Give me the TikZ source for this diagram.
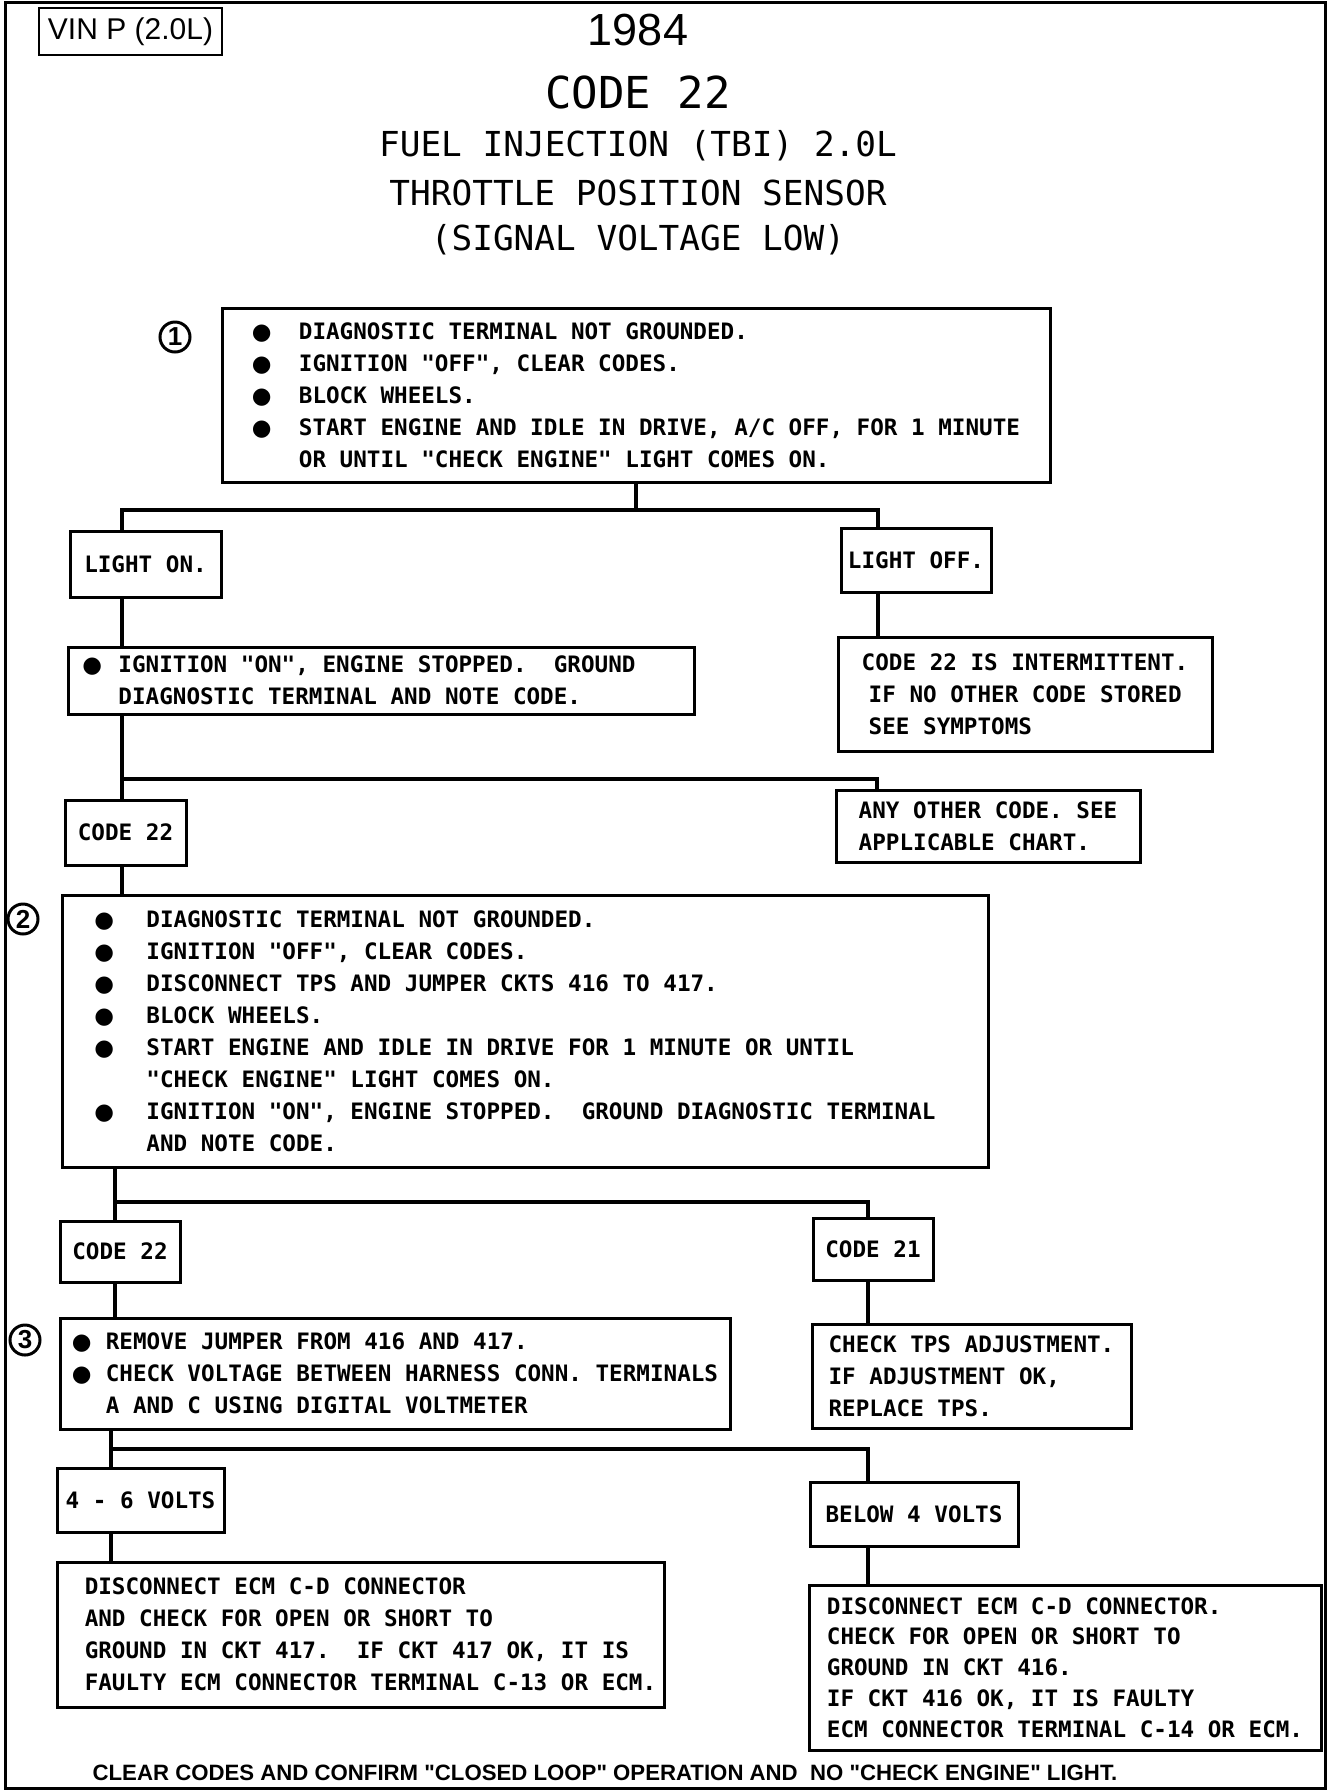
\documentclass[tikz,border=0pt]{standalone}
\usepackage{fontspec}
\setmainfont{Liberation Sans}
\newfontfamily\plotfont{DejaVu Sans Mono}
\newfontfamily\notefont{Liberation Sans}
\newfontfamily\symfont{DejaVu Sans}
\usetikzlibrary{positioning}
\frenchspacing
\newcommand{\bul}[1]{\makebox[#1][l]{\symfont ●}}
\newcommand{\ind}[1]{\hspace*{#1}}
\newcommand{\pad}[1]{\makebox[#1]{}}
\tikzset{%
	% Specifications for style of nodes:
	base/.style = {rectangle, draw=black, line width=1.5pt, inner sep=0pt,
		align=left, font={\plotfont\bfseries\fontsize{11.3}{16}\selectfont}},
	choice/.style = {base, align=center},
	title/.style = {font={\plotfont\fontsize{17.2}{20}\selectfont}},
	stepmark/.style = {circle, draw=black, line width=1.5pt, minimum size=15pt,
		inner sep=0pt, font={\notefont\bfseries\fontsize{13}{13}\selectfont}},
	link/.style = {line width=1.7pt},
}
\begin{document}
\begin{tikzpicture}[x=0.5pt, y=-0.5pt]
\useasboundingbox (0,0) rectangle (1328,1790);
\draw[line width=1.5pt] (5,2) rectangle (1325,1788);

% heading
\node (vin) [draw, line width=0.9pt, minimum width=91.5pt, minimum height=23.5pt, inner sep=0pt,
	font={\fontsize{15}{15}\selectfont}] at (130.5,31.5) {VIN P (2.0L)};
\node (year) [font={\fontsize{22.5}{24}\selectfont}] at (638,30) {1984};
\node (code) [font={\plotfont\fontsize{22}{24}\selectfont}] at (638,92) {CODE 22};
\node (system) [title] at (638,146) {FUEL INJECTION (TBI) 2.0L};
\node (sensor) [title] at (638,193) {THROTTLE POSITION SENSOR};
\node (fault) [title] at (638,240) {(SIGNAL VOLTAGE LOW)};

% step 1
\node (mark1) [stepmark] at (175,337) {1};
\node (check1) [base, minimum width=414pt, minimum height=87pt] at (636,395)
	{\bul{23.5pt}DIAGNOSTIC TERMINAL NOT GROUNDED.\\
	\bul{23.5pt}IGNITION "OFF", CLEAR CODES.\\
	\bul{23.5pt}BLOCK WHEELS.\\
	\bul{23.5pt}START ENGINE AND IDLE IN DRIVE, A/C OFF, FOR 1 MINUTE\\
	\ind{23.5pt}OR UNTIL "CHECK ENGINE" LIGHT COMES ON.};
\node (lighton) [choice, minimum width=75.5pt, minimum height=33pt] at (145.5,564) {LIGHT ON.};
\node (lightoff) [choice, minimum width=75pt, minimum height=32pt] at (916,560) {LIGHT OFF.};
\node (ignon) [base, minimum width=313pt, minimum height=33.5pt] at (381,680.5)
	{\bul{18pt}IGNITION "ON", ENGINE STOPPED.~~GROUND\pad{22pt}\\
	\ind{18pt}DIAGNOSTIC TERMINAL AND NOTE CODE.};
\node (intermit) [base, minimum width=187pt, minimum height=57pt] at (1025,694)
	{CODE 22 IS INTERMITTENT.\\
	\ind{3.5pt}IF NO OTHER CODE STORED\\
	\ind{3.5pt}SEE SYMPTOMS};
\node (code22a) [choice, minimum width=60.5pt, minimum height=32.5pt] at (125.5,832.5) {CODE 22};
\node (anyother) [base, minimum width=152pt, minimum height=36pt] at (988,826)
	{ANY OTHER CODE. SEE\\
	APPLICABLE CHART.};

% step 2
\node (mark2) [stepmark] at (23,919) {2};
\node (check2) [base, minimum width=463pt, minimum height=136pt] at (525,1031)
	{\bul{26pt}DIAGNOSTIC TERMINAL NOT GROUNDED.\\
	\bul{26pt}IGNITION "OFF", CLEAR CODES.\\
	\bul{26pt}DISCONNECT TPS AND JUMPER CKTS 416 TO 417.\\
	\bul{26pt}BLOCK WHEELS.\\
	\bul{26pt}START ENGINE AND IDLE IN DRIVE FOR 1 MINUTE OR UNTIL\\
	\ind{26pt}"CHECK ENGINE" LIGHT COMES ON.\\
	\bul{26pt}IGNITION "ON", ENGINE STOPPED.~~GROUND DIAGNOSTIC TERMINAL\pad{10pt}\\
	\ind{26pt}AND NOTE CODE.};
\node (code22b) [choice, minimum width=60pt, minimum height=30.5pt] at (120,1251.5) {CODE 22};
\node (code21) [choice, minimum width=60pt, minimum height=31pt] at (873,1249) {CODE 21};

% step 3
\node (mark3) [stepmark] at (25,1340) {3};
\node (check3) [base, minimum width=335pt, minimum height=55.5pt] at (395,1373.5)
	{\bul{17pt}REMOVE JUMPER FROM 416 AND 417.\\
	\bul{17pt}CHECK VOLTAGE BETWEEN HARNESS CONN. TERMINALS\\
	\ind{17pt}A AND C USING DIGITAL VOLTMETER};
\node (checktps) [base, minimum width=159.5pt, minimum height=52pt] at (971.5,1376)
	{CHECK TPS ADJUSTMENT.\\
	IF ADJUSTMENT OK,\\
	REPLACE TPS.};
\node (volts46) [choice, minimum width=83.5pt, minimum height=32pt] at (140.5,1500) {4 - 6 VOLTS};
\node (below4) [choice, minimum width=104pt, minimum height=32pt] at (914,1514) {BELOW 4 VOLTS};
\node (discL) [base, minimum width=303.5pt, minimum height=72.5pt] at (360.5,1634.5)
	{\ind{10pt}DISCONNECT ECM C-D CONNECTOR\\
	\ind{10pt}AND CHECK FOR OPEN OR SHORT TO\\
	\ind{10pt}GROUND IN CKT 417.~~IF CKT 417 OK, IT IS\\
	\ind{10pt}FAULTY ECM CONNECTOR TERMINAL C-13 OR ECM.};
\node (discR) [base, minimum width=256pt, minimum height=82.5pt,
	font={\plotfont\bfseries\fontsize{11.3}{15.4}\selectfont}] at (1065,1667.5)
	{DISCONNECT ECM C-D CONNECTOR.\\
	CHECK FOR OPEN OR SHORT TO\\
	GROUND IN CKT 416.\\
	IF CKT 416 OK, IT IS FAULTY\\
	ECM CONNECTOR TERMINAL C-14 OR ECM.};
\node (footer) [font={\notefont\bfseries\fontsize{11.1}{12}\selectfont}] at (605,1773)
	{CLEAR CODES AND CONFIRM "CLOSED LOOP" OPERATION AND~ NO "CHECK ENGINE" LIGHT.};

% branch points
\coordinate (tA) at (122,510);
\coordinate (bA) at (878,510);
\coordinate (tB) at (122,779);
\coordinate (bB) at (877,779);
\coordinate (tC) at (115,1202);
\coordinate (bC) at (868,1202);
\coordinate (tD) at (111,1449);
\coordinate (bD) at (868,1449);

\draw[link] (check1.south) -- (check1.south |- tA);
\draw[link] (lighton.north -| tA) -- (tA) -- (bA) -- (bA |- lightoff.north);
\draw[link] (lighton.south -| tA) -- (ignon.north -| tA);
\draw[link] (lightoff.south -| bA) -- (intermit.north -| bA);
\draw[link] (ignon.south -| tB) -- (code22a.north -| tB);
\draw[link] (tB) -- (bB) -- (bB |- anyother.north);
\draw[link] (code22a.south -| tB) -- (check2.north -| tB);
\draw[link] (check2.south -| tC) -- (code22b.north -| tC);
\draw[link] (tC) -- (bC) -- (bC |- code21.north);
\draw[link] (code22b.south -| tC) -- (check3.north -| tC);
\draw[link] (code21.south -| bC) -- (checktps.north -| bC);
\draw[link] (check3.south -| tD) -- (volts46.north -| tD);
\draw[link] (tD) -- (bD) -- (bD |- below4.north);
\draw[link] (volts46.south -| tD) -- (discL.north -| tD);
\draw[link] (below4.south -| bD) -- (discR.north -| bD);
\end{tikzpicture}
\end{document}
